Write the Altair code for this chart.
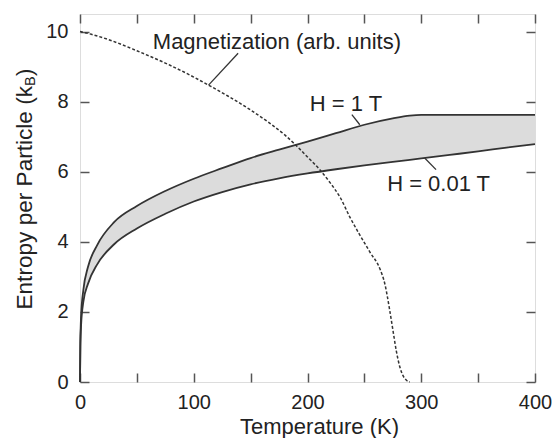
import altair as alt
import pandas as pd

FONT = "Liberation Sans"
INK = "#222222"
LINE = "#333333"
FRAME = "#555555"

# Entropy curves (common temperature grid)
temps = [0, 0.3, 1, 3, 7, 15, 30, 50, 75, 100, 125, 150, 175, 200, 225, 250, 275, 290, 300, 325, 350, 375, 400]
s_1T = [0, 1.1, 1.9, 2.64, 3.28, 3.9, 4.56, 5.02, 5.45, 5.8, 6.1, 6.39, 6.63, 6.86, 7.1, 7.34, 7.52, 7.6, 7.62, 7.62, 7.62, 7.62, 7.62]
s_001T = [0, 1.0, 1.65, 2.3, 2.8, 3.35, 3.93, 4.38, 4.8, 5.15, 5.42, 5.64, 5.81, 5.95, 6.07, 6.18, 6.28, 6.34, 6.38, 6.48, 6.58, 6.69, 6.79]

# Magnetization (arb. units)
mag_T = [0, 10, 25, 50, 75, 100, 113, 130, 150, 167, 180, 190, 200, 211, 220, 229, 237, 245, 255, 264, 268, 272, 275, 278, 281, 284, 287, 290]
mag_M = [10.0, 9.92, 9.77, 9.45, 9.1, 8.7, 8.47, 8.16, 7.76, 7.38, 7.05, 6.75, 6.42, 6.05, 5.68, 5.25, 4.72, 4.25, 3.7, 3.2, 2.8, 2.1, 1.5, 0.9, 0.45, 0.18, 0.05, 0.0]

# Annotation labels (data coordinates of the text start)
ann_text = ["Magnetization (arb. units)", "H = 1 T", "H = 0.01 T"]
ann_T = [64, 202, 270]
ann_S = [9.5, 7.73, 5.44]

# Leader lines
lead_T1 = [139, 239, 303]
lead_S1 = [9.38, 7.63, 6.39]
lead_T2 = [113, 246, 313]
lead_S2 = [8.47, 7.34, 6.06]

x_ticks = [0, 50, 100, 150, 200, 250, 300, 350, 400]
y_ticks = [0, 2, 4, 6, 8, 10]

curves = pd.DataFrame({"T": temps, "upper": s_1T, "lower": s_001T})
mag = pd.DataFrame({"T": mag_T, "M": mag_M})
ann = pd.DataFrame({"T": ann_T, "S": ann_S, "label": ann_text})
leads = pd.DataFrame({"T1": lead_T1, "S1": lead_S1, "T2": lead_T2, "S2": lead_S2})

xscale = alt.Scale(domain=[0, 400], nice=False, zero=False)
yscale = alt.Scale(domain=[0, 10.5], nice=False, zero=False)

x_bottom = alt.Axis(
    values=x_ticks, labelExpr="datum.value % 100 == 0 ? datum.label : ''",
    tickSize=9, offset=-9, domain=False, grid=False, labelPadding=10,
    labelFontSize=20, labelFont=FONT, labelColor=INK, labelFlush=False,
    tickColor=FRAME, tickWidth=1.5,
    title="Temperature (K)", titleFontSize=22, titleFont=FONT,
    titleFontWeight="normal", titleColor=INK, titleX=239, titleY=60,
    titleBaseline="alphabetic", titleAlign="center",
)
y_left = alt.Axis(
    values=y_ticks, tickSize=9, offset=-9, domain=False, grid=False,
    labelPadding=12, labelFontSize=20, labelFont=FONT, labelColor=INK,
    labelFlush=False, tickColor=FRAME, tickWidth=1.5, title="",
)
x_top = alt.Axis(orient="top", values=x_ticks, tickSize=9, offset=-9,
                 domain=False, grid=False, labels=False, tickColor=FRAME,
                 tickWidth=1.5, title="")
y_right = alt.Axis(orient="right", values=y_ticks, tickSize=9, offset=-9,
                   domain=False, grid=False, labels=False, tickColor=FRAME,
                   tickWidth=1.5, title="")

band = alt.Chart(curves).mark_area(color="#dcdcdc", interpolate="monotone").encode(
    x=alt.X("T:Q", scale=xscale, axis=x_bottom),
    y=alt.Y("lower:Q", scale=yscale, axis=y_left),
    y2="upper:Q",
)

lines = alt.Chart(curves).transform_fold(["upper", "lower"], as_=["field", "S"]).mark_line(
    color=LINE, strokeWidth=1.8, interpolate="monotone"
).encode(
    x=alt.X("T:Q", scale=xscale, axis=x_top),
    y=alt.Y("S:Q", scale=yscale, axis=y_right),
    detail="field:N",
)

magline = alt.Chart(mag).mark_line(
    color=LINE, strokeWidth=1.5, strokeDash=[3, 2], interpolate="monotone"
).encode(
    x=alt.X("T:Q", scale=xscale, axis=None),
    y=alt.Y("M:Q", scale=yscale, axis=None),
)

leaders = alt.Chart(leads).mark_rule(color=LINE, strokeWidth=1.3).encode(
    x=alt.X("T1:Q", scale=xscale, axis=None), y=alt.Y("S1:Q", scale=yscale, axis=None),
    x2="T2:Q", y2="S2:Q",
)

labels = alt.Chart(ann).mark_text(
    font=FONT, fontSize=22, color=INK, align="left", baseline="alphabetic"
).encode(
    x=alt.X("T:Q", scale=xscale, axis=None), y=alt.Y("S:Q", scale=yscale, axis=None),
    text="label:N",
)

ytitle_main = alt.Chart(pd.DataFrame({"t": ["Entropy per Particle (k"]})).mark_text(
    font=FONT, fontSize=22.6, color=INK, angle=270, align="right", baseline="middle"
).encode(x=alt.value(-55), y=alt.value(72), text="t:N")
ytitle_sub = alt.Chart(pd.DataFrame({"t": ["B"]})).mark_text(
    font=FONT, fontSize=14.5, color=INK, angle=270, align="left", baseline="middle"
).encode(x=alt.value(-49), y=alt.value(72), text="t:N")
ytitle_close = alt.Chart(pd.DataFrame({"t": [")"]})).mark_text(
    font=FONT, fontSize=22.6, color=INK, angle=270, align="left", baseline="middle"
).encode(x=alt.value(-55), y=alt.value(62), text="t:N")

chart = alt.layer(
    band, lines, magline, leaders, labels, ytitle_main, ytitle_sub, ytitle_close
).resolve_axis(x="independent", y="independent").properties(
    width=455, height=368,
    autosize=alt.AutoSizeParams(type="none"),
    padding={"left": 80, "top": 14, "right": 25, "bottom": 56},
).configure_view(stroke=FRAME, strokeWidth=1.6).configure(background="white")

chart.save("out.html", embed_options={"renderer": "svg", "actions": False})
